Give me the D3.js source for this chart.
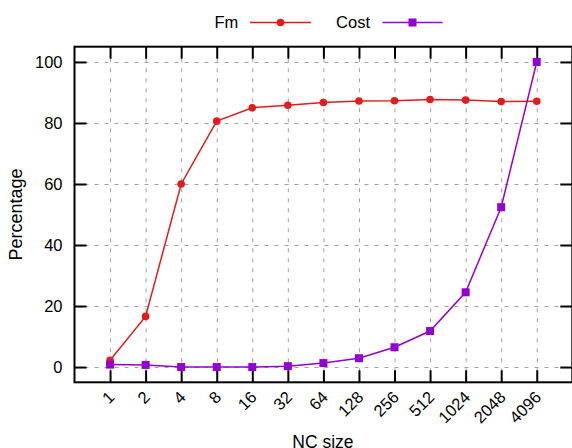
<!DOCTYPE html>
<html>
<head>
<meta charset="utf-8">
<script src="https://cdn.jsdelivr.net/npm/d3@7"></script>
<style>
  body { margin: 0; background: #fff; }
  svg { display: block; font-family: "Liberation Sans", Arial, sans-serif; }
</style>
</head>
<body>
<div id="chart"></div>
<script>
var width = 572, height = 448;
// categories and series
var sizes = ["1", "2", "4", "8", "16", "32", "64", "128", "256", "512", "1024", "2048", "4096"];
var fm   = [2.2, 16.6, 60.0, 80.6, 85.0, 85.8, 86.7, 87.2, 87.3, 87.7, 87.5, 87.0, 87.1];
var cost = [0.8, 0.7, 0.0, 0.0, 0.0, 0.3, 1.3, 2.9, 6.5, 11.8, 24.5, 52.4, 100.0];
var yTicks = [0, 20, 40, 60, 80, 100];

// plot frame (window.top is reserved, so keep these in an object)
var box = {l: 74.5, r: 572.3, t: 46.7, b: 382.3};
var red = "#e41a1c", purple = "#9400d3";

var svg = d3.select("#chart").append("svg")
    .attr("width", width).attr("height", height);

var x = d3.scaleLinear().domain([-1, sizes.length]).range([box.l, box.r]);
var y = d3.scaleLinear().domain([-5, 105]).range([box.b, box.t]);
var idx = sizes.map(function(d, i){ return i; });

// grid
var grid = svg.append("g").attr("class", "grid");
grid.append("g").attr("transform", "translate(0," + box.b + ")")
    .call(d3.axisBottom(x).tickValues(idx).tickSize(-(box.b - box.t)).tickFormat(""));
grid.append("g").attr("transform", "translate(" + box.l + ",0)")
    .call(d3.axisLeft(y).tickValues(yTicks).tickSize(-(box.r - box.l)).tickFormat(""));
grid.selectAll(".domain").remove();
grid.selectAll("line").attr("stroke", "#a0a0a0").attr("stroke-width", 1)
    .attr("stroke-dasharray", "4,6");

// axes with inward ticks
var ax = svg.append("g");
var gl = ax.append("g").attr("transform", "translate(" + box.l + ",0)")
    .call(d3.axisLeft(y).tickValues(yTicks).tickSize(-12).tickPadding(12));
gl.attr("font-size", 16.5).attr("font-family", null);
gl.selectAll("text").attr("x", -12).attr("fill", "#000");
var gr = ax.append("g").attr("transform", "translate(" + box.r + ",0)")
    .call(d3.axisRight(y).tickValues(yTicks).tickSize(-12).tickFormat(""));
var gt = ax.append("g").attr("transform", "translate(0," + box.t + ")")
    .call(d3.axisTop(x).tickValues(idx).tickSize(-12).tickFormat(""));
var gb = ax.append("g").attr("transform", "translate(0," + box.b + ")")
    .call(d3.axisBottom(x).tickValues(idx).tickSize(-12).tickFormat(function(i){ return sizes[i]; }));
gb.attr("font-size", 16.5).attr("font-family", null);
gb.selectAll("text")
    .attr("text-anchor", "end")
    .attr("fill", "#000")
    .attr("dy", null)
    .attr("y", 0)
    .attr("transform", "translate(5,16) rotate(-45)");
ax.selectAll(".domain").remove();
ax.selectAll(".tick line").attr("stroke", "#000").attr("stroke-width", 2);

// border
svg.append("rect")
    .attr("x", box.l).attr("y", box.t)
    .attr("width", box.r - box.l).attr("height", box.b - box.t)
    .attr("fill", "none").attr("stroke", "#000").attr("stroke-width", 2);

// series
var line = d3.line().x(function(d, i){ return x(i); }).y(function(d){ return y(d); });
svg.append("path").datum(fm).attr("d", line)
    .attr("fill", "none").attr("stroke", red).attr("stroke-width", 1.5);
svg.append("g").selectAll("circle").data(fm).enter().append("circle")
    .attr("cx", function(d, i){ return x(i); })
    .attr("cy", function(d){ return y(d); })
    .attr("r", 3.8).attr("fill", red);
svg.append("path").datum(cost).attr("d", line)
    .attr("fill", "none").attr("stroke", purple).attr("stroke-width", 1.5);
svg.append("g").selectAll("rect").data(cost).enter().append("rect")
    .attr("x", function(d, i){ return x(i) - 4; })
    .attr("y", function(d){ return y(d) - 4; })
    .attr("width", 8).attr("height", 8).attr("fill", purple);

// axis titles
svg.append("text").attr("x", (box.l + box.r) / 2 - 0.5).attr("y", 448)
    .attr("text-anchor", "middle").attr("font-size", 17.5).text("NC size");
svg.append("text").attr("transform", "translate(22," + ((box.t + box.b) / 2) + ") rotate(-90)")
    .attr("text-anchor", "middle").attr("font-size", 18).text("Percentage");

// legend
var leg = svg.append("g").attr("font-size", 16.5);
leg.append("text").attr("x", 238.3).attr("y", 27.5).attr("text-anchor", "end").text("Fm");
leg.append("line").attr("x1", 250).attr("x2", 311).attr("y1", 22.5).attr("y2", 22.5)
    .attr("stroke", red).attr("stroke-width", 1.5);
leg.append("circle").attr("cx", 280.5).attr("cy", 22.5).attr("r", 3.8).attr("fill", red);
leg.append("text").attr("x", 370).attr("y", 27.5).attr("text-anchor", "end").text("Cost");
leg.append("line").attr("x1", 382.5).attr("x2", 442.5).attr("y1", 22.5).attr("y2", 22.5)
    .attr("stroke", purple).attr("stroke-width", 1.5);
leg.append("rect").attr("x", 408.5).attr("y", 18.5).attr("width", 8).attr("height", 8).attr("fill", purple);
</script>
</body>
</html>
